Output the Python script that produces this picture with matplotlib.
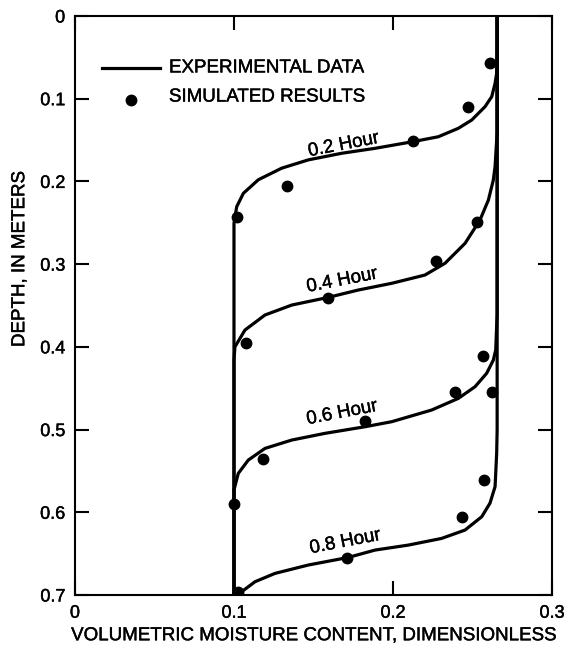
import matplotlib
matplotlib.use("Agg")
import matplotlib.pyplot as plt
import matplotlib.patheffects as pe

plt.rcParams['font.family'] = ['Liberation Sans', 'DejaVu Sans']

# experimental moisture profiles (moisture content, depth in m)
theta_02 = [0.2655, 0.2655, 0.2652, 0.2642, 0.2621, 0.2579, 0.2495, 0.2411,
            0.2285, 0.2124, 0.1887, 0.1677, 0.1467, 0.130, 0.1153, 0.1059,
            0.1017, 0.100, 0.100]
depth_02 = [0.0, 0.04, 0.0693, 0.0814, 0.0975, 0.1096, 0.1258, 0.1358,
            0.146, 0.152, 0.160, 0.166, 0.174, 0.184, 0.198, 0.2144,
            0.2306, 0.2507, 0.70]

theta_04 = [0.2655, 0.2655, 0.2642, 0.2631, 0.260, 0.2547, 0.2453, 0.2327,
            0.2201, 0.1992, 0.1782, 0.1593, 0.1363, 0.1195, 0.1069, 0.1006,
            0.100, 0.100]
depth_04 = [0.0, 0.14, 0.182, 0.1983, 0.2225, 0.2467, 0.2749, 0.299,
            0.3132, 0.3232, 0.3313, 0.3402, 0.3495, 0.3615, 0.3797, 0.40,
            0.416, 0.70]

theta_06 = [0.2655, 0.2655, 0.2646, 0.2631, 0.2589, 0.2516, 0.2411, 0.2243,
            0.1992, 0.1824, 0.1572, 0.1363, 0.1195, 0.109, 0.1027, 0.100,
            0.100]
depth_06 = [0.0, 0.36, 0.4039, 0.416, 0.432, 0.4482, 0.4623, 0.4764,
            0.4905, 0.4966, 0.5046, 0.5127, 0.5228, 0.5369, 0.553, 0.573,
            0.70]

theta_08 = [0.2655, 0.2655, 0.2652, 0.2642, 0.261, 0.2558, 0.2453, 0.2306,
            0.2096, 0.1887, 0.1719, 0.1467, 0.1258, 0.1132, 0.1048, 0.1027]
depth_08 = [0.0, 0.50, 0.5288, 0.569, 0.589, 0.6054, 0.6215, 0.6316,
            0.6397, 0.6457, 0.6546, 0.6638, 0.6739, 0.684, 0.6961, 0.70]

# simulated results
sim_theta = [0.261, 0.2474, 0.2123, 0.1331, 0.1017, 0.2526, 0.2270, 0.1593,
             0.1073, 0.2563, 0.2390, 0.2625, 0.1824, 0.1185, 0.1000, 0.2572,
             0.2432, 0.1713, 0.1027]
sim_depth = [0.0565, 0.110, 0.151, 0.2056, 0.2434, 0.2487, 0.2962, 0.3406,
             0.395, 0.4107, 0.4543, 0.455, 0.4893, 0.5357, 0.590, 0.561,
             0.606, 0.655, 0.697]

hour_labels = ['0.2 Hour', '0.4 Hour', '0.6 Hour', '0.8 Hour']
label_theta = [0.169, 0.168, 0.168, 0.170]
label_depth = [0.156, 0.320, 0.480, 0.636]

bold = [pe.withStroke(linewidth=0.3, foreground='black')]

fig = plt.figure(figsize=(5.65, 6.47), dpi=100)
ax = fig.add_axes([0.1327, 0.0804, 0.8443, 0.8949])

for th, dp in [(theta_02, depth_02), (theta_04, depth_04),
               (theta_06, depth_06), (theta_08, depth_08)]:
    ax.plot(th, dp, color='black', lw=2.3, solid_capstyle='round',
            solid_joinstyle='round')

ax.plot(sim_theta, sim_depth, 'o', color='black', ms=7.5)

for txt, x, y in zip(hour_labels, label_theta, label_depth):
    ax.text(x, y, txt, fontsize=13.5, rotation=11, ha='center', va='center',
            path_effects=bold)

# legend drawn by hand
ax.plot([0.0170, 0.0535], [0.0628, 0.0628], color='black', lw=2.3)
ax.plot([0.0352], [0.1016], 'o', color='black', ms=7.5)
ax.text(0.0591, 0.0628, 'EXPERIMENTAL DATA', fontsize=13.5, va='center',
        path_effects=bold)
ax.text(0.0591, 0.0980, 'SIMULATED RESULTS', fontsize=13.5, va='center',
        path_effects=bold)

ax.set_xlim(0, 0.3)
ax.set_ylim(0.7, 0)
ax.set_xticks([0, 0.1, 0.2, 0.3])
ax.set_xticklabels(['0', '0.1', '0.2', '0.3'])
ax.set_yticks([0, 0.1, 0.2, 0.3, 0.4, 0.5, 0.6, 0.7])
ax.set_yticklabels(['0', '0.1', '0.2', '0.3', '0.4', '0.5', '0.6', '0.7'])
ax.tick_params(direction='in', length=10, width=1.5, top=True, right=True,
               labelsize=13, pad=7)
for lab in ax.get_xticklabels() + ax.get_yticklabels():
    lab.set_path_effects(bold)
for s in ax.spines.values():
    s.set_linewidth(1.5)

ax.set_xlabel('VOLUMETRIC MOISTURE CONTENT, DIMENSIONLESS', fontsize=13.5,
              labelpad=4, path_effects=bold)
ax.set_ylabel('DEPTH, IN METERS', fontsize=13.5, path_effects=bold)
ax.yaxis.set_label_coords(-0.098, 0.58)

fig.savefig('out.png', dpi=100)
